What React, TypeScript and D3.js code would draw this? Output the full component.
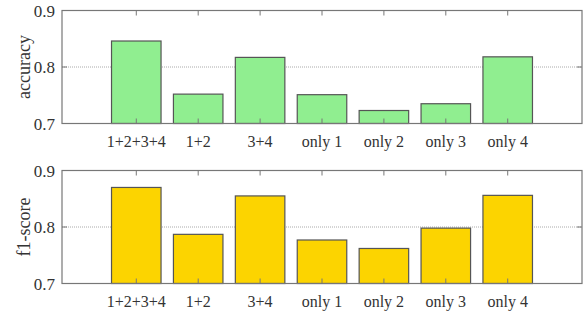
import * as d3 from 'd3';

// Data
const categories = ['1+2+3+4', '1+2', '3+4', 'only 1', 'only 2', 'only 3', 'only 4'];
const accuracy = [0.846, 0.752, 0.817, 0.751, 0.723, 0.735, 0.818];
const f1Score = [0.870, 0.787, 0.855, 0.777, 0.762, 0.798, 0.856];
const yTicks = [0.7, 0.8, 0.9];

const WIDTH = 587;
const HEIGHT = 316;
const FONT = '"Liberation Serif", "Times New Roman", serif';

interface PanelProps {
    top: number;
    bottom: number;
    values: number[];
    label: string;
    fill: string;
}

const left = 62;
const right = 582;

// x positions in category units, like gnuplot's xrange [-1.2:7.2]
const xScale = d3.scaleLinear().domain([-1.2, 7.2]).range([left, right]);
const barWidth = 0.8;

function Panel({ top, bottom, values, label, fill }: PanelProps) {
    const yScale = d3.scaleLinear().domain([0.7, 0.9]).range([bottom, top]);
    const frame = '#777';
    return (
        <g>
            {/* grid line at inner ticks */}
            {yTicks.slice(1, -1).map(t => (
                <line key={'g' + t} x1={left} x2={right} y1={yScale(t)} y2={yScale(t)}
                    stroke="#aaa" strokeWidth={1} strokeDasharray="1,1" />
            ))}
            {/* bars */}
            {values.map((v, i) => (
                <rect key={categories[i]}
                    x={xScale(i - barWidth / 2)}
                    y={yScale(v)}
                    width={xScale(barWidth) - xScale(0)}
                    height={yScale(0.7) - yScale(v)}
                    fill={fill} stroke="#555" strokeWidth={1.2} />
            ))}
            {/* frame */}
            <rect x={left} y={top} width={right - left} height={bottom - top}
                fill="none" stroke={frame} strokeWidth={1.2} />
            {/* x ticks, mirrored */}
            {categories.map((c, i) => (
                <g key={'xt' + c}>
                    <line x1={xScale(i)} x2={xScale(i)} y1={bottom} y2={bottom - 5} stroke={frame} />
                    <line x1={xScale(i)} x2={xScale(i)} y1={top} y2={top + 5} stroke={frame} />
                    <text x={xScale(i)} y={bottom + 23} textAnchor="middle" fontSize={16}
                        fontFamily={FONT} fill="#333">{c}</text>
                </g>
            ))}
            {/* y ticks, mirrored */}
            {yTicks.map(t => (
                <g key={'yt' + t}>
                    <line x1={left} x2={left + 5} y1={yScale(t)} y2={yScale(t)} stroke={frame} />
                    <line x1={right} x2={right - 5} y1={yScale(t)} y2={yScale(t)} stroke={frame} />
                    <text x={left - 7} y={yScale(t) + 6} textAnchor="end" fontSize={17}
                        fontFamily={FONT} fill="#333">{t.toFixed(1)}</text>
                </g>
            ))}
            <text transform={`translate(30,${(top + bottom) / 2}) rotate(-90)`}
                textAnchor="middle" fontSize={18} fontFamily={FONT} fill="#333">{label}</text>
        </g>
    );
}

export default function App() {
    return (
        <svg width={WIDTH} height={HEIGHT}
            style={{ position: 'absolute', left: 0, top: 0, background: '#fff' }}>
            <Panel top={10.5} bottom={123.5} values={accuracy} label="accuracy" fill="#90ee90" />
            <Panel top={170.5} bottom={283.5} values={f1Score} label="f1-score" fill="#fcd400" />
        </svg>
    );
}
